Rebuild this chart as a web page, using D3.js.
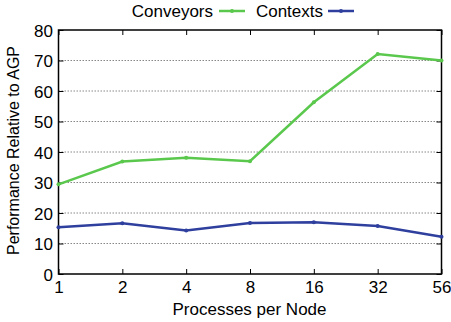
<!DOCTYPE html>
<html>
<head>
<meta charset="utf-8">
<script src="https://cdn.jsdelivr.net/npm/d3@7"></script>
<style>
  body { margin: 0; background: #fff; }
  text { font-family: "Liberation Sans", Arial, sans-serif; }
</style>
</head>
<body>
<div id="chart"></div>
<script>
const processes = ['1', '2', '4', '8', '16', '32', '56'];
const conveyors = [29.4, 36.9, 38.1, 37.0, 56.3, 72.1, 70.0];
const contexts = [15.3, 16.6, 14.3, 16.7, 17.0, 15.7, 12.2];
const yTicks = [0, 10, 20, 30, 40, 50, 60, 70, 80];

const width = 451, height = 322;
const margin = { top: 30, right: 9.5, bottom: 48, left: 58.5 };

const svg = d3.select('#chart').append('svg')
    .attr('width', width)
    .attr('height', height);

const x = d3.scalePoint()
    .domain(processes)
    .range([margin.left, width - margin.right]);

const y = d3.scaleLinear()
    .domain([0, 80])
    .range([height - margin.bottom, margin.top]);

// grid lines
svg.append('g')
    .selectAll('line')
    .data(yTicks.slice(1, -1))
    .enter().append('line')
    .attr('x1', margin.left)
    .attr('x2', width - margin.right)
    .attr('y1', d => y(d))
    .attr('y2', d => y(d))
    .attr('stroke', '#888')
    .attr('stroke-width', 1)
    .attr('stroke-dasharray', '1.5,1.5');

// axes
const yAxis = svg.append('g')
    .attr('transform', `translate(${margin.left},0)`)
    .call(d3.axisLeft(y).tickValues(yTicks).tickSize(-5).tickPadding(5.5));
const yAxisR = svg.append('g')
    .attr('transform', `translate(${width - margin.right},0)`)
    .call(d3.axisRight(y).tickValues(yTicks).tickSize(-5).tickFormat(''));
const xAxis = svg.append('g')
    .attr('transform', `translate(0,${height - margin.bottom})`)
    .call(d3.axisBottom(x).tickSize(-5).tickPadding(6.5));
const xAxisT = svg.append('g')
    .attr('transform', `translate(0,${margin.top})`)
    .call(d3.axisTop(x).tickSize(-5).tickFormat(''));

[yAxis, yAxisR, xAxis, xAxisT].forEach(a => {
    a.select('.domain').remove();
    a.selectAll('line').attr('stroke', '#000');
    a.selectAll('text').attr('font-size', 17).attr('fill', '#000')
        .style('font-family', '"Liberation Sans", Arial, sans-serif');
});
yAxis.selectAll('text').attr('dy', '0.36em');

// frame
svg.append('rect')
    .attr('x', margin.left)
    .attr('y', margin.top)
    .attr('width', width - margin.left - margin.right)
    .attr('height', height - margin.top - margin.bottom)
    .attr('fill', 'none')
    .attr('stroke', '#000')
    .attr('stroke-width', 1.5);

const series = [
    { name: 'Conveyors', values: conveyors, color: '#5ac84c' },
    { name: 'Contexts', values: contexts, color: '#2e3f9e' }
];

const line = d3.line()
    .x((d, i) => x(processes[i]))
    .y(d => y(d));

series.forEach(s => {
    svg.append('path')
        .datum(s.values)
        .attr('fill', 'none')
        .attr('stroke', s.color)
        .attr('stroke-width', 2.5)
        .attr('d', line);
    svg.append('g')
        .selectAll('circle')
        .data(s.values)
        .enter().append('circle')
        .attr('cx', (d, i) => x(processes[i]))
        .attr('cy', d => y(d))
        .attr('r', 2)
        .attr('fill', s.color);
});

// legend
const legendItems = [
    { name: 'Conveyors', color: '#5ac84c', textEnd: 213, x1: 219, x2: 245 },
    { name: 'Contexts', color: '#2e3f9e', textEnd: 323, x1: 328, x2: 354 }
];
legendItems.forEach(l => {
    svg.append('text')
        .attr('x', l.textEnd)
        .attr('y', 17)
        .attr('text-anchor', 'end')
        .attr('font-size', 17)
        .text(l.name);
    svg.append('line')
        .attr('x1', l.x1).attr('x2', l.x2)
        .attr('y1', 11).attr('y2', 11)
        .attr('stroke', l.color)
        .attr('stroke-width', 2.5);
    svg.append('circle')
        .attr('cx', (l.x1 + l.x2) / 2)
        .attr('cy', 11)
        .attr('r', 2)
        .attr('fill', l.color);
});

// axis titles
svg.append('text')
    .attr('x', 249.5)
    .attr('y', 314.5)
    .attr('text-anchor', 'middle')
    .attr('font-size', 17)
    .text('Processes per Node');

svg.append('text')
    .attr('transform', 'translate(18.5,150.5) rotate(-90)')
    .attr('text-anchor', 'middle')
    .attr('font-size', 16)
    .text('Performance Relative to AGP');
</script>
</body>
</html>
